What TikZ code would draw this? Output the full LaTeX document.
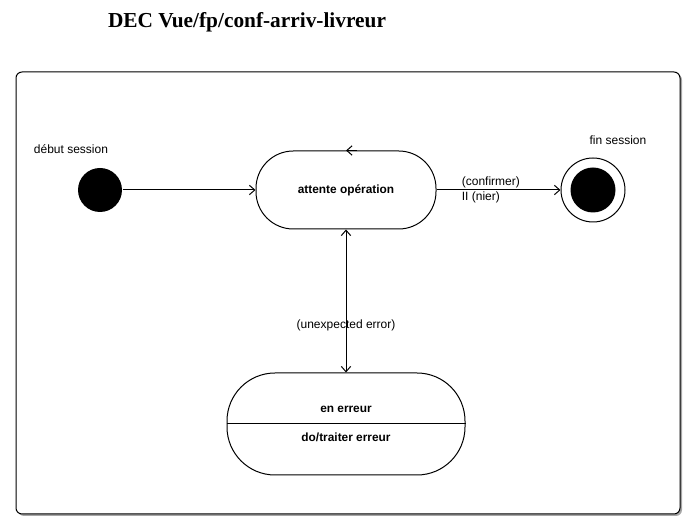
\documentclass[tikz,border=0pt]{standalone}
\usepackage{fontspec}
\setmainfont{Liberation Sans}
\newfontfamily\titlefont{Liberation Serif}
\usetikzlibrary{arrows.meta,positioning}
\tikzset{every picture/.style={line width=0.75pt}}

\begin{document}
\begin{tikzpicture}[x=0.75pt, y=-0.75pt,
    >={Straight Barb[length=4pt,width=7pt]},
    etat/.style={draw, rounded corners=28pt, minimum width=135pt, minimum height=58.5pt,
        font=\bfseries\fontsize{8.9}{10.5}\selectfont},
    lbl/.style={font=\fontsize{9}{10.5}\selectfont, inner sep=1pt}]
    \useasboundingbox (0,0) rectangle (694,530);

    % titre
    \node (titre) at (247,22) {\titlefont\bfseries\fontsize{16}{18}\selectfont DEC Vue/fp/conf-arriv-livreur};

    % cadre avec ombre
    \fill[black!35, rounded corners=4.5pt] (18,74) rectangle (682,516);
    \draw[fill=white, rounded corners=4.5pt] (16,72) rectangle (680,514);

    % etat initial
    \node[circle, fill=black, minimum size=33pt, inner sep=0pt] (debut) at (100,190) {};
    \node[lbl] (ldebut) at (71,149) {début session};

    % etat d'attente
    \node[etat] (attente) at (346,190) {attente opération};
    \draw[->] ([xshift=8pt]attente.north) -- (attente.north);

    % etat final
    \node[circle, draw, minimum size=48pt, inner sep=0pt] (fin) at (593,190) {};
    \node[circle, fill=black, minimum size=33.75pt, inner sep=0pt] (fincoeur) at (fin) {};
    \node[lbl] (lfin) at (618,140) {fin session};

    % etat d'erreur
    \node[etat, minimum width=178.5pt, minimum height=76.5pt, rounded corners=36pt] (erreur) at (346,424) {};
    \draw (erreur.west) -- (erreur.east);
    \node[lbl, font=\bfseries\fontsize{8.9}{10.5}\selectfont] (enerreur) at (346,409) {en erreur};
    \node[lbl, font=\bfseries\fontsize{8.9}{10.5}\selectfont] (traiter) at (346,437) {do/traiter erreur};

    % transitions
    \draw[->] (debut) -- (attente);
    \draw[->] (attente) -- (fin)
        node[lbl, pos=0.19, anchor=south west] {(confirmer)}
        node[lbl, pos=0.19, anchor=north west] {II (nier)};
    \draw[<->] (attente) -- (erreur)
        node[lbl, pos=0.67] {(unexpected error)};
\end{tikzpicture}
\end{document}
